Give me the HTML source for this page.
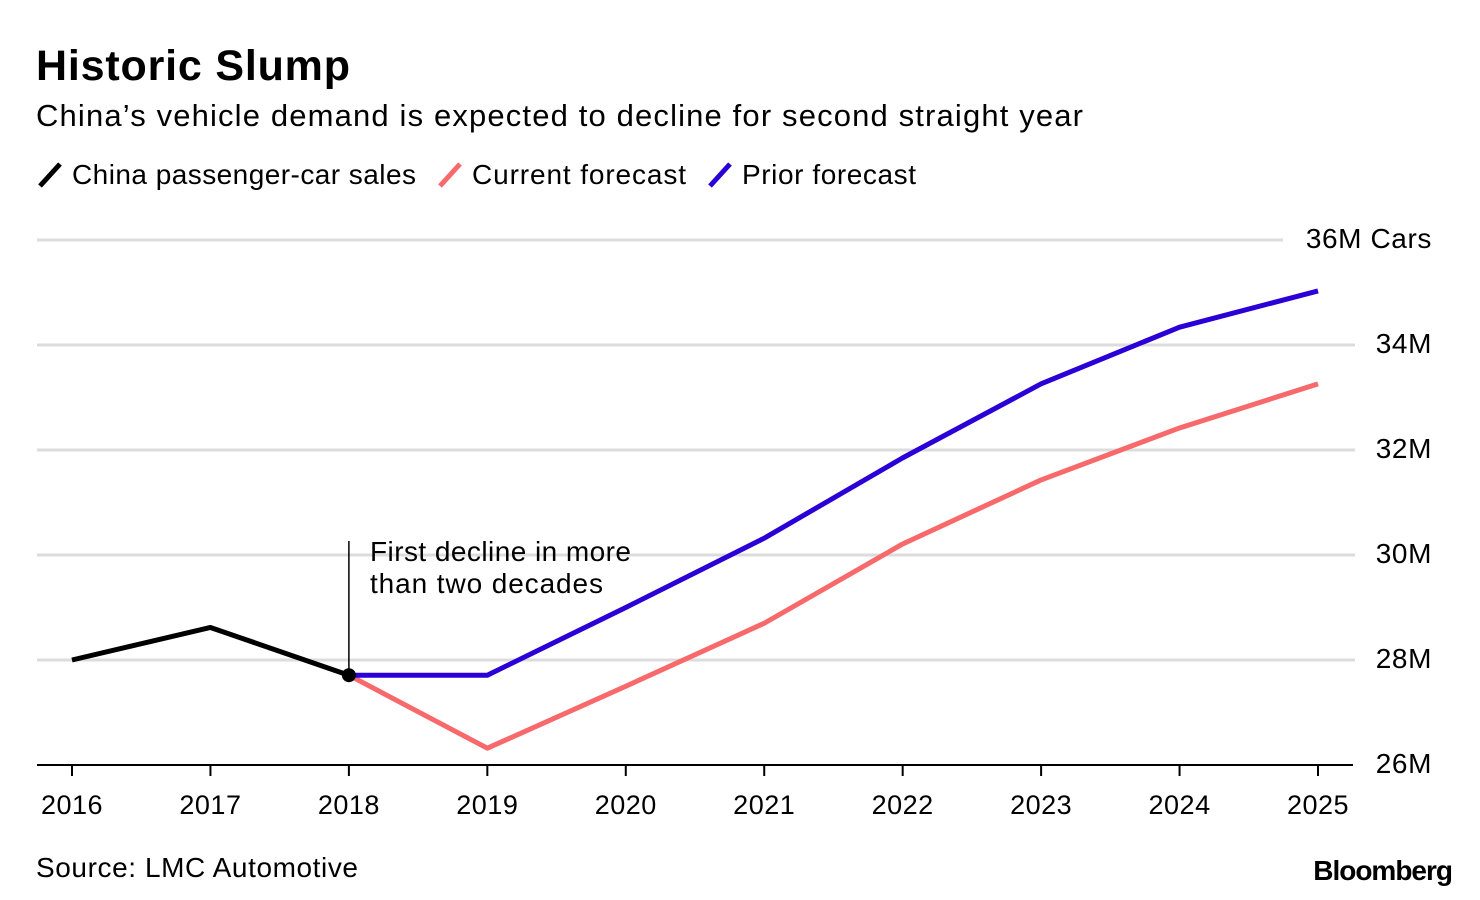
<!DOCTYPE html>
<html><head><meta charset="utf-8">
<style>
body{margin:0;background:#fff;width:1480px;height:900px;overflow:hidden;font-family:"Liberation Sans",sans-serif;}
svg{display:block}
</style></head>
<body>
<svg id="chart" width="1480" height="900" xmlns="http://www.w3.org/2000/svg" font-family="Liberation Sans, sans-serif">
<text x="36" y="80" font-size="43" font-weight="bold" fill="#000" textLength="314" lengthAdjust="spacing">Historic Slump</text>
<text x="36" y="126" font-size="31" fill="#000" textLength="1047" lengthAdjust="spacing">China’s vehicle demand is expected to decline for second straight year</text>
<g>
<line x1="40" y1="186" x2="60" y2="164" stroke="#000" stroke-width="5"/>
<text x="72" y="184" font-size="28" textLength="344" lengthAdjust="spacing">China passenger-car sales</text>
<line x1="440" y1="186" x2="460" y2="164" stroke="#f8696b" stroke-width="5"/>
<text x="472" y="184" font-size="28" textLength="214" lengthAdjust="spacing">Current forecast</text>
<line x1="710" y1="186" x2="730" y2="164" stroke="#2a00d6" stroke-width="5"/>
<text x="742" y="184" font-size="28" textLength="174" lengthAdjust="spacing">Prior forecast</text>
</g>
<g id="grid"></g>
<g id="series"></g>
<g id="axes"></g>
<text x="36" y="877" font-size="28" textLength="322" lengthAdjust="spacing">Source: LMC Automotive</text>
<text x="1452" y="880" font-size="28" font-weight="bold" text-anchor="end" letter-spacing="-1">Bloomberg</text>
</svg>
<script>
const years=[2016,2017,2018,2019,2020,2021,2022,2023,2024,2025];
const salesYears=[2016,2017,2018];
const salesValues=[28.0,28.62,27.71];
const currentYears=[2018,2019,2020,2021,2022,2023,2024,2025];
const currentValues=[27.71,26.32,27.5,28.7,30.21,31.43,32.42,33.26];
const priorYears=[2018,2019,2020,2021,2022,2023,2024,2025];
const priorValues=[27.71,27.71,29.0,30.32,31.85,33.26,34.34,35.03];
const yTicks=[26,28,30,32,34,36];
const yTickLabels=["26M","28M","30M","32M","34M","36M Cars"];
const NS="http://www.w3.org/2000/svg";
const x=y=>72+(y-2016)*(1318-72)/9;
const yS=v=>765-(v-26)*52.5;
function mk(tag,attrs,parent,text){const e=document.createElementNS(NS,tag);for(const k in attrs)e.setAttribute(k,attrs[k]);if(text!==undefined)e.textContent=text;document.getElementById(parent).appendChild(e);return e;}
yTicks.forEach((t,i)=>{
  const last=i===yTicks.length-1;
  if(t!==26){const l=mk('line',{x1:37,x2:last?1283:1355,y1:yS(t),y2:yS(t),stroke:'#dcdcdc','stroke-width':3},'grid');
  
  }
  const tx=mk('text',{x:1432,y:yS(t)+8,'font-size':28,'text-anchor':'end','letter-spacing':'0.6'},'axes',yTickLabels[i]);
  
  
});
const ax=mk('line',{x1:37,x2:1353,y1:765,y2:765,stroke:'#000','stroke-width':2},'axes');


years.forEach(yr=>{
  const tk=mk('line',{x1:x(yr),x2:x(yr),y1:765,y2:776,stroke:'#000','stroke-width':2},'axes');
  
  
  const tl=mk('text',{x:x(yr),y:814,'font-size':27,'text-anchor':'middle','letter-spacing':'0.5'},'axes',String(yr));
  
  
});
function line(xs,vs,color,name){
  const p=mk('polyline',{points:xs.map((yr,i)=>x(yr)+','+yS(vs[i])).join(' '),fill:'none',stroke:color,'stroke-width':5,'stroke-linejoin':'round'},'series');
  
  
}
line(currentYears,currentValues,'#f8696b','current-forecast-line');
line(priorYears,priorValues,'#2a00d6','prior-forecast-line');
line(salesYears,salesValues,'#000','sales-line');
const ann=mk('line',{x1:x(2018),x2:x(2018),y1:541,y2:yS(salesValues[2]),stroke:'#000','stroke-width':1.5},'series');


const dot=mk('circle',{cx:x(2018),cy:yS(salesValues[2]),r:7,fill:'#000'},'series');


const a1=mk('text',{x:370,y:561,'font-size':28,textLength:261,lengthAdjust:'spacing'},'series','First decline in more');


const a2=mk('text',{x:370,y:593,'font-size':28,textLength:233,lengthAdjust:'spacing'},'series','than two decades');


</script>
</body></html>
